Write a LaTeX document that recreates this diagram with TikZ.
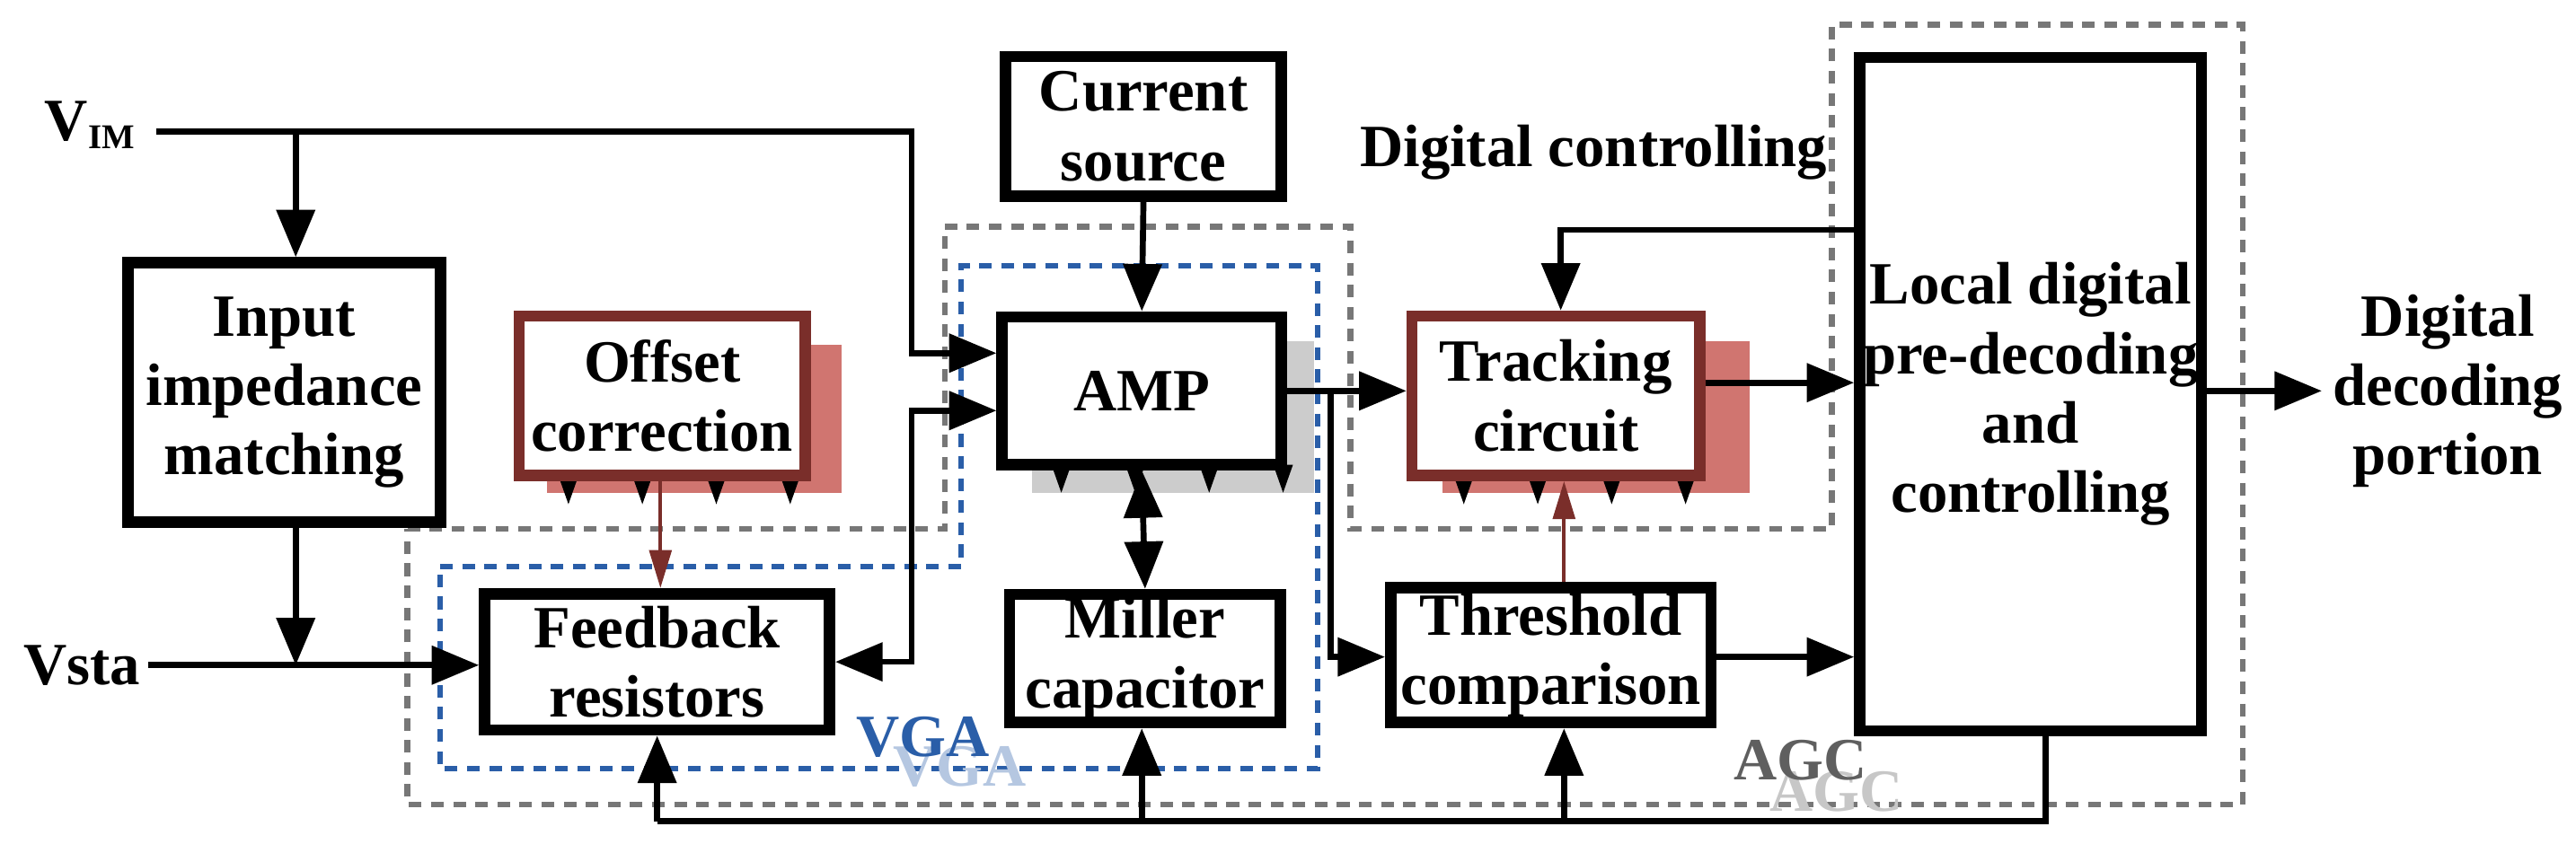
\documentclass[tikz,border=0pt]{standalone}
\usepackage{fontspec}
\setmainfont{Liberation Serif}
\usetikzlibrary{arrows.meta}
\definecolor{dred}{HTML}{7A2E2A}
\definecolor{pinkish}{HTML}{D07570}
\definecolor{vblue}{HTML}{2A5EA8}
\definecolor{agcgray}{HTML}{777777}
\begin{document}
\begin{tikzpicture}[x=0.01829cm,y=-0.01829cm,
  box/.style={draw=black,line width=3.6pt,fill=white,align=center,inner sep=0pt,
    font=\fontsize{19}{22}\selectfont\bfseries},
  rbox/.style={box,draw=dred},
  lbl/.style={font=\fontsize{19}{22}\selectfont\bfseries,align=center},
  tip/.tip={Triangle[length=15pt,width=12pt]},
  wire/.style={line width=1.9pt,-tip},
  rwire/.style={line width=1.1pt,draw=dred,-{Triangle[length=12pt,width=7pt]},dred},
  agc/.style={draw=agcgray,line width=1.8pt,dash pattern=on 4pt off 3pt},
  vga/.style={draw=vblue,line width=1.8pt,dash pattern=on 4pt off 3pt}]
\useasboundingbox (0,0) rectangle (1568,519);
% dashed regions
\draw[agc] (248,322)--(575,322)--(575,138)--(822,138)--(822,322)--(1115,322)--(1115,15)--(1365,15)--(1365,490)--(248,490)--cycle;
\draw[vga] (268,345)--(585,345)--(585,162)--(802,162)--(802,468)--(268,468)--cycle;
\node[text=vblue!35,font=\fontsize{19}{22}\selectfont\bfseries] (vgar) at (584,467) {VGA};
\node[text=vblue,font=\fontsize{19}{22}\selectfont\bfseries] (vgal) at (562,449) {VGA};
\node[text=black!22,font=\fontsize{19}{22}\selectfont\bfseries] (agcr) at (1118,482) {AGC};
\node[text=agcgray!80!black,font=\fontsize{19}{22}\selectfont\bfseries] (agcl) at (1096,463) {AGC};
% shadows
\fill[pinkish] (333,210) rectangle (512,300);
\fill[pinkish] (878,208) rectangle (1065,300);
\fill[black!20] (628,208) rectangle (800,300);
\foreach \x in {340,385,430,475}{\fill (\x,290)--(\x+12,290)--(\x+6,307)--cycle;}
\foreach \x in {640,685,730,775}{\fill (\x,283)--(\x+12,283)--(\x+6,300)--cycle;}
\foreach \x in {885,930,975,1020}{\fill (\x,290)--(\x+12,290)--(\x+6,307)--cycle;}
% boxes
\node[box,minimum width=190*0.01829cm,minimum height=158*0.01829cm] (inp) at (173,239) {Input\\impedance\\matching};
\node[rbox,minimum width=174*0.01829cm,minimum height=97*0.01829cm] (off) at (403,241) {Offset\\correction};
\node[box,minimum width=210*0.01829cm,minimum height=83*0.01829cm] (fb) at (400,403) {Feedback\\resistors};
\node[box,minimum width=168*0.01829cm,minimum height=85*0.01829cm] (cur) at (696,77) {Current\\source};
\node[box,minimum width=170*0.01829cm,minimum height=90*0.01829cm] (amp) at (695,238) {AMP};
\node[box,minimum width=165*0.01829cm,minimum height=78*0.01829cm] (mil) at (697,401) {Miller\\capacitor};
\node[rbox,minimum width=175*0.01829cm,minimum height=97*0.01829cm] (trk) at (947,241) {Tracking\\circuit};
\node[box,minimum width=195*0.01829cm,minimum height=82*0.01829cm] (thr) at (944,399) {Threshold\\comparison};
\node[box,minimum width=208*0.01829cm,minimum height=410*0.01829cm] (loc) at (1236,240) {Local digital\\pre-decoding\\and\\controlling};
% labels
\node[lbl] (vim) at (55,76) {V\textsubscript{\fontsize{11}{12}\selectfont IM}};
\node[lbl] (vsta) at (50,405) {Vsta};
\node[lbl] (dc) at (970,93) {Digital controlling};
\node[lbl] (dd) at (1490,238) {Digital\\decoding\\portion};
% wires
\coordinate (vimE) at (95,80);
\coordinate (vstaE) at (90,405);
\draw[wire] (vimE)--(555,80)--(555,215)--(amp.west|-0,215);
\draw[wire] (180,80)--(inp.north-|180,0);
\draw[wire] (inp.south-|180,0)--(180,405);
\draw[wire] (vstaE)--(fb.west|-0,405);
\draw[wire,tip-tip] (fb.east|-0,403)--(555,403)--(555,250)--(amp.west|-0,250);
\draw[rwire] (off.south-|402,0)--(fb.north-|402,0);
\draw[wire] (cur.south)--(amp.north);
\draw[wire,tip-tip] (amp.south)--(mil.north);
\draw[wire] (amp.east|-0,238)--(trk.west|-0,238);
\draw[wire] (810,238)--(810,400)--(thr.west|-0,400);
\draw[wire] (trk.east|-0,233)--(loc.west|-0,233);
\draw[wire] (loc.west|-0,140)--(950,140)--(trk.north-|950,0);
\draw[wire] (thr.east|-0,400)--(loc.west|-0,400);
\draw[rwire] (thr.north-|952,0)--(trk.south-|952,0);
\draw[wire] (loc.east|-0,238)--(dd.west|-0,238);
\draw[line width=1.9pt] (loc.south-|1245,0)--(1245,500)--(400,500);
\draw[wire] (400,500)--(fb.south);
\draw[wire] (695,500)--(mil.south-|695,0);
\draw[wire] (952,500)--(thr.south-|952,0);
\end{tikzpicture}
\end{document}
